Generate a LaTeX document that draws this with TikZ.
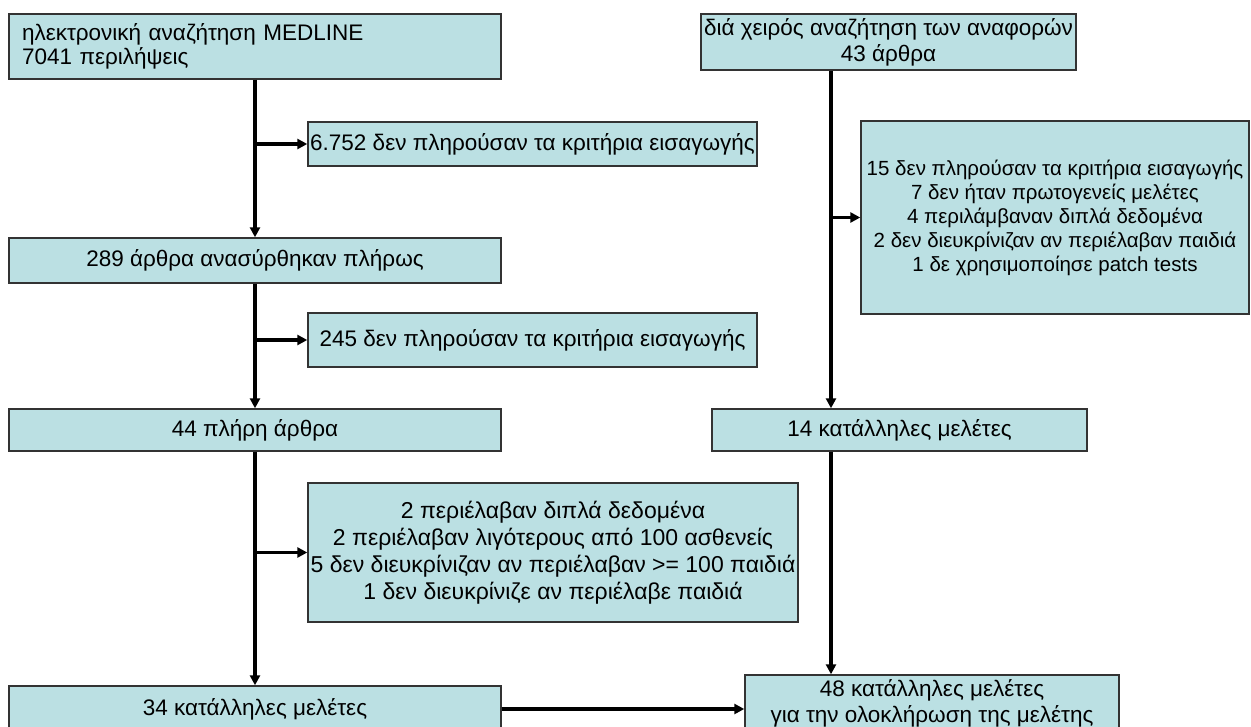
\documentclass[tikz,border=0pt]{standalone}
\usepackage{fontspec}
\setmainfont{Liberation Sans}
\usetikzlibrary{arrows.meta}
\definecolor{boxcyan}{RGB}{187,224,227}

\begin{document}
\begin{tikzpicture}[x=1pt, y=-1pt,
	box/.style={rectangle, draw=black!80, line width=1.4pt, fill=boxcyan, inner sep=0pt, align=center, font=\fontsize{22.5}{26}\selectfont},
	flow/.style={line width=3.1pt, -{Triangle[length=10pt,width=10pt]}}]
	\clip (0,0) rectangle (1251,727);
	\fill[white] (0,0) rectangle (1251,727);

	\node (medline) at (255,46.5) [box, minimum width=492, minimum height=65, text width=466, align=left, font=\fontsize{22.5}{24}\selectfont] {ηλεκτρονική αναζήτηση MEDLINE\\7041 περιλήψεις};
	\node (excla) at (532.5,144) [box, minimum width=449, minimum height=44] {6.752 δεν πληρούσαν τα κριτήρια εισαγωγής};
	\node (full) at (255,260.5) [box, minimum width=492, minimum height=45] {289 άρθρα ανασύρθηκαν πλήρως};
	\node (exclb) at (532.5,340) [box, minimum width=449, minimum height=54] {245 δεν πληρούσαν τα κριτήρια εισαγωγής};
	\node (fullb) at (255,430) [box, minimum width=492, minimum height=42] {44 πλήρη άρθρα};
	\node (exclc) at (553,552.5) [box, minimum width=490, minimum height=139, font=\fontsize{23}{27}\selectfont] {2 περιέλαβαν διπλά δεδομένα\\2 περιέλαβαν λιγότερους από 100 ασθενείς\\5 δεν διευκρίνιζαν αν περιέλαβαν >= 100 παιδιά\\1 δεν διευκρίνιζε αν περιέλαβε παιδιά};
	\node (suita) at (255,709) [box, minimum width=492, minimum height=46] {34 κατάλληλες μελέτες};

	\node (manual) at (888.5,42) [box, minimum width=375, minimum height=56] {διά χειρός αναζήτηση των αναφορών\\43 άρθρα};
	\node (excld) at (1055,217.5) [box, minimum width=388, minimum height=193, font=\fontsize{20.5}{24}\selectfont] {15 δεν πληρούσαν τα κριτήρια εισαγωγής\\7 δεν ήταν πρωτογενείς μελέτες\\4 περιλάμβαναν διπλά δεδομένα\\2 δεν διευκρίνιζαν αν περιέλαβαν παιδιά\\1 δε χρησιμοποίησε patch tests};
	\node (suitb) at (899.5,430) [box, minimum width=375, minimum height=42] {14 κατάλληλες μελέτες};
	\node (final) at (932,703) [box, minimum width=374, minimum height=56] {48 κατάλληλες μελέτες\\για την ολοκλήρωση της μελέτης};
	\coordinate (rline) at (831,0);

	\draw[flow] (medline.south -| full.north) -- (full.north);
	\draw[flow] (medline.south |- excla.west) -- (excla.west);
	\draw[flow] (full.south) -- (fullb.north);
	\draw[flow] (full.south |- exclb.west) -- (exclb.west);
	\draw[flow] (fullb.south) -- (suita.north);
	\draw[flow] (fullb.south |- exclc.west) -- (exclc.west);
	\draw[flow] (manual.south -| rline) -- (suitb.north -| rline);
	\draw[flow] (rline |- excld.west) -- (excld.west);
	\draw[flow] (suitb.south -| rline) -- (final.north -| rline);
	\draw[flow, line width=4pt] (suita.east) -- (suita.east -| final.west);
\end{tikzpicture}
\end{document}
